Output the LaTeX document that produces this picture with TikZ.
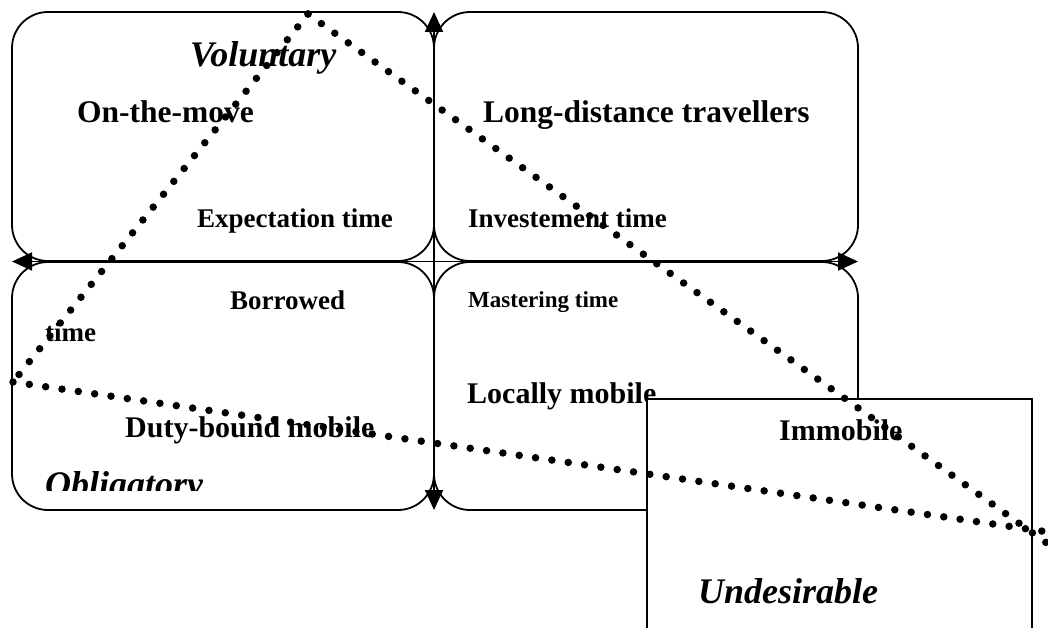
\documentclass[tikz,border=0pt]{standalone}
\usepackage{fontspec}
\setmainfont{Liberation Serif}
\usetikzlibrary{arrows.meta}
\tikzset{
  quad/.style={draw, line width=1.8pt, rounded corners=36pt},
  plainbox/.style={draw, line width=1.8pt, fill=white},
  axis/.style={line width=1.8pt, {Triangle[length=20pt,width=18pt]}-{Triangle[length=20pt,width=18pt]}},
  head/.style={anchor=base west, inner sep=0pt, font=\bfseries\itshape\fontsize{36}{40}\selectfont},
  group/.style={anchor=base west, inner sep=0pt, font=\bfseries\fontsize{31.5}{36}\selectfont},
  kind/.style={anchor=base west, inner sep=0pt, font=\bfseries\fontsize{30}{34}\selectfont},
  span/.style={anchor=base west, inner sep=0pt, font=\bfseries\fontsize{27}{30}\selectfont},
  spansmall/.style={anchor=base west, inner sep=0pt, font=\bfseries\fontsize{23}{26}\selectfont},
  dotline/.style={line width=7.5pt, line cap=round, dash pattern=on 0pt off 16.5pt}
}
\begin{document}
\begin{tikzpicture}[x=1pt,y=-1pt]
  \useasboundingbox (0,0) rectangle (1048,628);
  \draw[quad] (12,12) rectangle (434,261);
  \draw[quad] (434,12) rectangle (858,261);
  \draw[quad] (12,262) rectangle (434,510);
  \draw[quad] (434,262) rectangle (858,510);
  \draw[axis] (434,510) -- (434,12);
  \draw[axis] (12,261.5) -- (858,261.5);
  \node[head] (voluntary) at (190,67) {Voluntary};
  \node[group] (onmove) at (77,123) {On-the-move};
  \node[group] (longdist) at (483,123) {Long-distance travellers};
  \node[span] (expect) at (197,227) {Expectation time};
  \node[span] (invest) at (468,227) {Investement time};
  \node[span] (borrowed) at (230,309) {Borrowed};
  \node[span] (borrowtime) at (45,341) {time};
  \node[spansmall] (master) at (468,307) {Mastering time};
  \node[kind] (locally) at (467,403) {Locally mobile};
  \node[kind] (duty) at (125,437) {Duty-bound mobile};
  \begin{scope}
    \clip (12,262) rectangle (434,490);
    \node[head] (obligatory) at (45,496) {Obligatory};
  \end{scope}
  \draw[plainbox] (647,399) rectangle (1032,640);
  \node[kind] (immobile) at (779,440) {Immobile};
  \node[head] (undesirable) at (698,603) {Undesirable};
  \coordinate (apex) at (308,14);
  \coordinate (leftend) at (13,382);
  \coordinate (tipA) at (1062,554);
  \coordinate (tipB) at (1062,534);
  \begin{scope}
    \clip (0,0) rectangle (1048,628);
    \draw[dotline] (apex) -- (leftend);
    \draw[dotline] (apex) -- (tipA);
    \draw[dotline] (leftend) -- (tipB);
  \end{scope}
\end{tikzpicture}
\end{document}
